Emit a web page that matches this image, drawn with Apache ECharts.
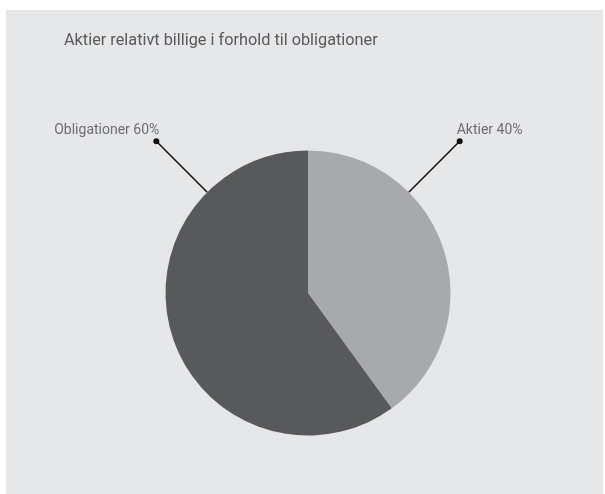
<!DOCTYPE html>
<html>
<head>
<meta charset="utf-8">
<script src="https://cdn.jsdelivr.net/npm/echarts@6/dist/echarts.min.js"></script>
<style>
  html, body { margin: 0; padding: 0; background: #ffffff; }
  #chart { position: absolute; left: 6px; top: 10px; width: 597px; height: 484px; background: #e6e7e8; }
</style>
</head>
<body>
<div id="chart"></div>
<script>
// data
const names = ['Aktier', 'Obligationer'];
const shares = [40, 60];
const colors = ['#a7a9ac', '#58595b'];

const CX = 302, CY = 283, R = 142.5, EXT = 72;
const FONT = 'Roboto, sans-serif';

const chart = echarts.init(document.getElementById('chart'));

const option = {
  title: {
    text: 'Aktier relativt billige i forhold til obligationer',
    left: 53,
    top: 18,
    textStyle: {
      fontFamily: FONT,
      fontSize: 16.3,
      fontWeight: 'normal',
      color: '#58595b'
    }
  },
  series: [
    {
      type: 'pie',
      center: [CX, CY],
      radius: R,
      startAngle: 90,
      clockwise: true,
      animation: false,
      silent: true,
      itemStyle: { borderWidth: 0 },
      label: {
        show: true,
        position: 'outside',
        formatter: p => `{t|${p.name} ${p.value}%}\n{dot|}`,
        rich: {
          t: {
            fontFamily: FONT,
            fontSize: 14,
            color: '#6d6e71',
            lineHeight: 15
          },
          dot: {
            width: 6,
            height: 6,
            borderRadius: 3,
            backgroundColor: '#111111'
          }
        }
      },
      labelLine: {
        show: true,
        lineStyle: { color: '#111111', width: 1.5 }
      },
      // labels sit on a 45 degree radial line, like the original
      labelLayout: function (p) {
        const dir = p.labelRect.x + p.labelRect.width / 2 < CX ? -1 : 1;
        const k = Math.SQRT1_2;
        const x0 = CX + dir * R * k, y0 = CY - R * k;
        const x1 = CX + dir * (R + EXT) * k, y1 = CY - (R + EXT) * k;
        return {
          x: x1 - dir * 3,
          y: y1 + 3,
          align: dir > 0 ? 'left' : 'right',
          verticalAlign: 'bottom',
          labelLinePoints: [[x0, y0], [x1, y1], [x1, y1]]
        };
      },
      data: names.map((n, i) => ({
        name: n,
        value: shares[i],
        itemStyle: { color: colors[i] }
      }))
    }
  ]
};

chart.setOption(option);
</script>
</body>
</html>
